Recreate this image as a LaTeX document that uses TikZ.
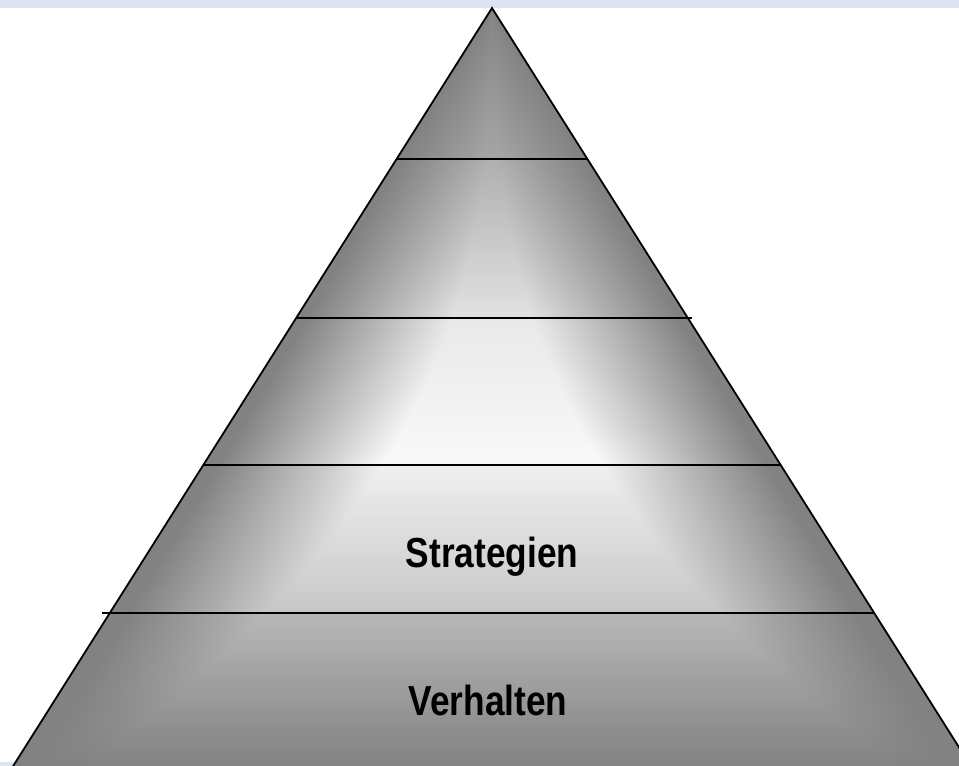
\documentclass[tikz,border=0pt]{standalone}
\usepackage{fontspec}
\setmainfont{Liberation Sans}
\usepackage{tikz}
\usetikzlibrary{positioning}
\definecolor{bandblue}{RGB}{220,228,242}
\definecolor{pyrgray}{RGB}{130,130,130}
\tikzset{
  layer/.style={line width=1.5pt, black},
  lbl/.style={font=\bfseries\fontsize{42}{48}\selectfont, xscale=0.84, inner sep=0pt, anchor=base}
}

\begin{document}
\begin{tikzpicture}[x=1pt, y=-1pt]
			\useasboundingbox (0,0) rectangle (959,766);
			\fill[white] (0,0) rectangle (959,766);
			\fill[bandblue] (0,0) rectangle (959,8);
			\fill[bandblue] (0,762) rectangle (959,766);

			\coordinate (top) at (492,8);
			\coordinate (bl) at (-2,790);
			\coordinate (br) at (986,790);

			% fill of the pyramid, strip by strip
			\begin{scope}
				\clip (top) -- (bl) -- (br) -- cycle;
				\fill[pyrgray] (0,0) rectangle (959,790);
				\foreach \ya/\yb/\la/\lb in {8/159/2/28, 159/318/36/76, 318/465/82/95, 465/613/88/55, 613/766/43/0}{
					\pgfmathsetmacro{\n}{int((\yb-\ya)/3)}
					\foreach \i in {1,...,\n}{
						\pgfmathsetmacro{\ym}{\ya+(\i-0.5)*(\yb-\ya)/\n}
						\pgfmathsetmacro{\yt}{\ya+(\i-1)*(\yb-\ya)/\n}
						\pgfmathsetmacro{\ybt}{\ya+\i*(\yb-\ya)/\n+0.5}
						\pgfmathsetmacro{\L}{\la+(\lb-\la)*(\i-0.5)/\n}
						\pgfmathsetmacro{\w}{0.632*(\ym-8)}
						\pgfmathsetmacro{\f}{0.85*((\ym-8)/758)^1.6}
						\colorlet{cc}{white!\L!pyrgray}
						\shade[left color=pyrgray, right color=cc] (492-0.95*\w,\yt) rectangle (492-\f*\w,\ybt);
						\fill[cc] (492-\f*\w-0.3,\yt) rectangle (492+\f*\w+0.3,\ybt);
						\shade[left color=cc, right color=pyrgray] (492+\f*\w,\yt) rectangle (492+0.95*\w,\ybt);
					}
				}
			\end{scope}

			\draw[line width=1.8pt, line join=miter] (bl) -- (top) -- (br);
			\draw[layer] (397,159) -- (587,159);
			\draw[layer] (297,318) -- (692,318);
			\draw[layer] (203,465) -- (781,465);
			\draw[layer] (102,613) -- (875,613);

			\node[lbl] (strat) at (492,567) {Strategien};
			\node[lbl] (verh) at (488,715) {Verhalten};
		\end{tikzpicture}
\end{document}
